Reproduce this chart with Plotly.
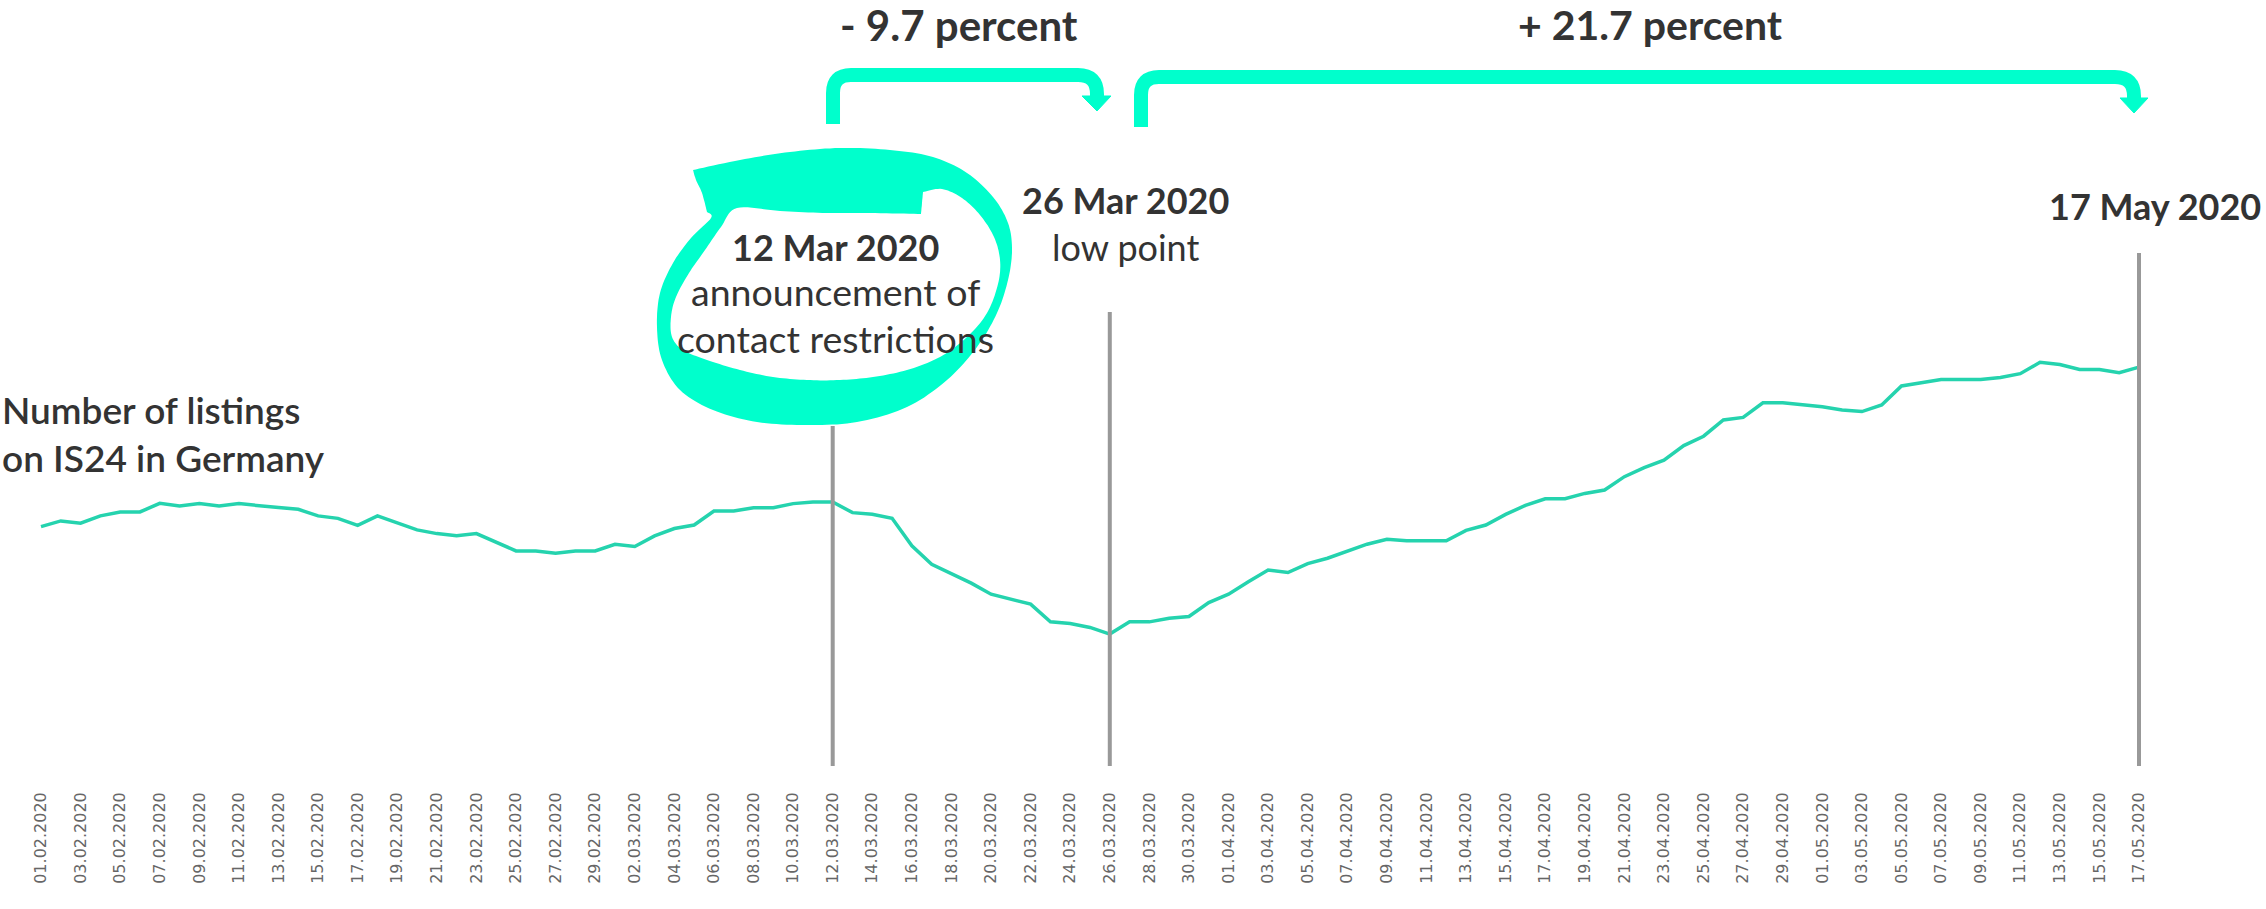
import re
from datetime import date, timedelta

import numpy as np
import plotly.graph_objects as go

# ---------------------------------------------------------------- data
# daily dates 01.02.2020 .. 17.05.2020
days = [(date(2020, 2, 1) + timedelta(d)).strftime("%d.%m.%Y") for d in range(107)]

# number of listings on IS24, indexed to 12.03.2020 = 100
listings = [
    98.19, 98.61, 98.44, 98.98, 99.27, 99.27, 99.90, 99.71, 99.88, 99.71,
    99.88, 99.71, 99.59, 99.46, 98.98, 98.80, 98.29, 98.98, 98.49, 97.95,
    97.68, 97.53, 97.68, 97.07, 96.41, 96.41, 96.24, 96.41,
    96.41, 96.90, 96.73, 97.51, 98.05, 98.31, 99.34, 99.34, 99.58, 99.58,
    99.88, 100.00, 100.00, 99.22, 99.10, 98.80, 96.78, 95.43, 94.77, 94.04,
    93.23, 92.87, 92.50, 91.20, 91.08, 90.79, 90.30,
    91.20, 91.20, 91.47, 91.59, 92.62, 93.23, 94.14, 95.00, 94.82, 95.48,
    95.87, 96.36, 96.90, 97.26, 97.16, 97.16, 97.16, 97.92, 98.31, 99.09,
    99.75, 100.24, 100.24, 100.63, 100.88, 101.86, 102.52,
    103.07, 104.14, 104.83, 106.02, 106.21, 107.28, 107.28, 107.14, 106.99,
    106.76, 106.64, 107.12, 108.52, 108.76, 109.00, 109.00, 109.00, 109.14,
    109.42, 110.26, 110.09, 109.73, 109.73, 109.50, 109.90,
]

tick_labels = days[::2]
event_days = ["12.03.2020", "26.03.2020", "17.05.2020"]
change_labels = ["- 9.7 percent", "+ 21.7 percent"]

# ---------------------------------------------------------------- geometry helpers
W, H = 2266, 909
LINE = "#25d3ae"
BRIGHT = "#00ffcc"
TEXT = "#333333"
FONT = "Lato"


def px(x):
    return x / W


def py(y):
    return 1 - y / H


def path(s):
    """Convert an SVG path written in pixel coordinates to paper coordinates."""
    out, is_x = [], True
    for tok in re.findall(r"[A-Za-z]|-?\d+(?:\.\d+)?", s):
        if tok.isalpha():
            out.append(tok)
            is_x = True
        else:
            v = float(tok)
            out.append(f"{px(v):.5f}" if is_x else f"{py(v):.5f}")
            is_x = not is_x
    return " ".join(out)


def smooth_closed(pts, corners=(), n=10):
    """Closed Catmull-Rom curve through pts; indices in `corners` stay sharp."""
    pts = np.asarray(pts, float)
    m = len(pts)
    out = []
    for i in range(m):
        p1, p2 = pts[i], pts[(i + 1) % m]
        p0 = p1 if i in corners else pts[(i - 1) % m]
        p3 = p2 if (i + 1) % m in corners else pts[(i + 2) % m]
        for t in np.linspace(0, 1, n, endpoint=False):
            t2, t3 = t * t, t * t * t
            out.append(0.5 * ((2 * p1) + (-p0 + p2) * t
                              + (2 * p0 - 5 * p1 + 4 * p2 - p3) * t2
                              + (-p0 + 3 * p1 - 3 * p2 + p3) * t3))
    return np.array(out)


# x axis: first day at 41 px, last at 2139 px
span = 106 * W / (2139 - 41)
r0 = -41 / W * span
x_range = [r0, r0 + span]


# y axis: index 100 sits at 502 px, 13.62 px per index point
def val_at(p):
    return 100 - (p - 502) / 13.62


plot_bottom, plot_top = 766, 140
y_range = [val_at(plot_bottom), val_at(plot_top)]

fig = go.Figure()
fig.add_trace(go.Scatter(
    x=days, y=listings, mode="lines",
    line=dict(color=LINE, width=3.5),
    hoverinfo="skip", showlegend=False,
))

shapes = []

# grey marker lines for the three key dates
for d, top in zip(event_days, [426, 312, 253]):
    shapes.append(dict(
        type="line", xref="x", yref="paper",
        x0=d, x1=d, y0=py(plot_bottom), y1=py(top),
        line=dict(color="#999999", width=4), layer="above",
    ))

# bracket arrows above the chart
brackets = [
    ("M 833 124 L 833 93 Q 833 75 851 75 L 1078 75 Q 1097 75 1097 94 L 1097 99",
     "M 1082 96 L 1111 96 L 1097 111 Z"),
    ("M 1141 127 L 1141 95 Q 1141 77 1159 77 L 2115 77 Q 2134 77 2134 96 L 2134 101",
     "M 2120 98 L 2148 98 L 2134 113 Z"),
]
for stroke, head in brackets:
    shapes.append(dict(type="path", xref="paper", yref="paper", path=path(stroke),
                       line=dict(color=BRIGHT, width=14)))
    shapes.append(dict(type="path", xref="paper", yref="paper", path=path(head),
                       fillcolor=BRIGHT, line=dict(color=BRIGHT, width=1)))

# brush-stroke ring around the 12 March note: outer outline and inner hole
ring_outer = [
    (693, 170), (740, 160), (790, 152), (840, 148), (890, 150), (933, 157),
    (967, 173), (993, 197), (1008, 223), (1012, 250), (1008, 280), (997, 313),
    (977, 347), (947, 380), (907, 407), (857, 422), (807, 425), (757, 422),
    (713, 410), (680, 390), (662, 360), (657, 327), (660, 293), (673, 263),
    (691, 238), (711, 218), (707, 212), (702, 193), (696, 180),
]
ring_hole = [
    (737, 208), (780, 211), (827, 213), (870, 213), (921, 214), (923, 192),
    (942, 189), (962, 198), (980, 215), (994, 237), (1000, 260), (998, 284),
    (987, 313), (967, 337), (940, 357), (907, 370), (873, 377), (840, 380),
    (807, 380), (773, 377), (740, 370), (707, 360), (683, 350), (672, 337),
    (671, 317), (676, 297), (689, 273), (705, 250), (721, 227),
]
outer_curve = smooth_closed(ring_outer, corners={0, 26})
hole_curve = smooth_closed(ring_hole, corners={4, 5})[::-1]


def sub_path(pts):
    return "M " + " L ".join(f"{x:.1f} {y:.1f}" for x, y in pts) + " Z"


ring = sub_path(outer_curve) + " " + sub_path(hole_curve)
shapes.append(dict(type="path", xref="paper", yref="paper", path=path(ring),
                   fillcolor=BRIGHT, fillrule="nonzero", line=dict(width=0), layer="below"))

# ---------------------------------------------------------------- text
annotations = []


def note(text, x, y, size, weight=400, xanchor="center", align="center"):
    annotations.append(dict(
        text=text, x=px(x), y=py(y), xref="paper", yref="paper",
        xanchor=xanchor, yanchor="middle", align=align, showarrow=False,
        font=dict(family=FONT, size=size, color=TEXT, weight=weight),
    ))


note(change_labels[0], 959, 25, 42, 700)
note(change_labels[1], 1650, 25, 41, 700)

note("12 Mar 2020", 835, 247, 36, 700)
note("announcement of", 835, 292, 37.5)
note("contact restrictions", 835, 339, 37.5)

note("26 Mar 2020", 1125, 200, 36, 700)
note("low point", 1125, 247, 36)

note("17 May 2020", 2155, 206, 36, 700)

note("Number of listings<br>on IS24 in Germany", 0, 434, 37, 600, xanchor="left", align="left")

fig.update_layout(
    width=W, height=H,
    margin=dict(l=0, r=0, t=0, b=0),
    paper_bgcolor="white", plot_bgcolor="white",
    shapes=shapes, annotations=annotations,
    xaxis=dict(
        type="category", range=x_range, domain=[0, 1],
        tickmode="array", tickvals=tick_labels, ticktext=tick_labels,
        tickangle=-90, ticks="", ticklabelstandoff=22,
        tickfont=dict(family="DejaVu Sans", size=16, color="#666666"),
        showgrid=False, zeroline=False, showline=False, automargin=False,
    ),
    yaxis=dict(
        range=y_range, domain=[py(plot_bottom), py(plot_top)],
        visible=False, showgrid=False, zeroline=False, automargin=False,
    ),
)

fig.write_html("out.html")
